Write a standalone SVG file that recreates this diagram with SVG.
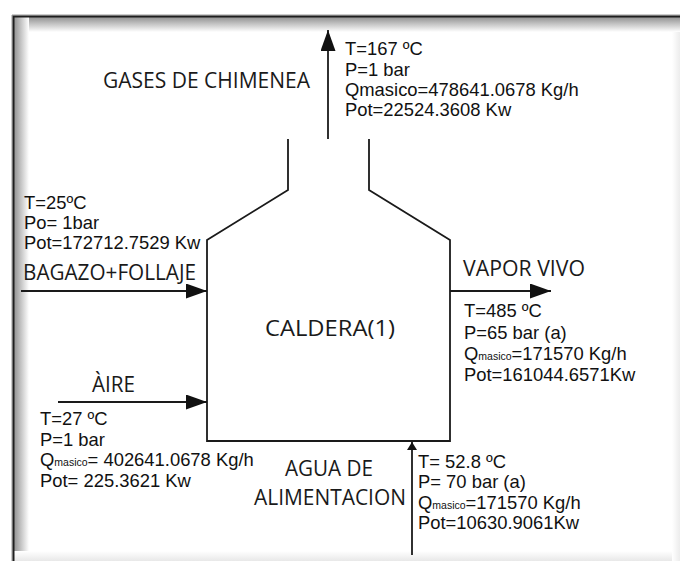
<svg xmlns="http://www.w3.org/2000/svg" width="680" height="561" viewBox="0 0 680 561">
<defs>
<linearGradient id="gTop" x1="0" y1="0" x2="0" y2="1"><stop offset="0" stop-color="#8a8a8a"/><stop offset="1" stop-color="#ffffff"/></linearGradient>
<linearGradient id="gLeft" x1="0" y1="0" x2="1" y2="0"><stop offset="0" stop-color="#8a8a8a"/><stop offset="1" stop-color="#ffffff"/></linearGradient>
<linearGradient id="gBot" x1="0" y1="0" x2="0" y2="1"><stop offset="0" stop-color="#ffffff"/><stop offset="1" stop-color="#e8e8e8"/></linearGradient>
<linearGradient id="gRight" x1="0" y1="0" x2="1" y2="0"><stop offset="0" stop-color="#ffffff"/><stop offset="1" stop-color="#ececec"/></linearGradient>
<marker id="ah" markerUnits="userSpaceOnUse" markerWidth="22" markerHeight="16" refX="21" refY="7.5" orient="auto"><path d="M0,0 L21,7.5 L0,15 Z" fill="#111"/></marker>
<marker id="ahs" markerUnits="userSpaceOnUse" markerWidth="10" markerHeight="12" refX="8" refY="5" orient="auto"><path d="M0,0 L8,5 L0,10 Z" fill="#111"/></marker>
</defs>
<style>
.d{font-family:"Liberation Sans",Arial,sans-serif;font-size:18.4px;fill:#111}
.h{font-family:"Open Sans","Noto Sans",sans-serif;font-size:21px;fill:#1a1a1a}
.sub{font-size:10.5px}
.ln{fill:none;stroke:#1a1a1a;stroke-width:1.8}
</style>
<rect width="680" height="561" fill="#fff"/>
<g id="frame">
<rect x="13" y="16" width="667" height="16" fill="url(#gTop)"/>
<rect x="13" y="16" width="16" height="545" fill="url(#gLeft)"/>
<rect x="29" y="32" width="651" height="529" fill="#fff"/>
<rect x="13" y="551" width="667" height="10" fill="url(#gBot)"/>
<rect x="672" y="32" width="8" height="529" fill="url(#gRight)"/>
<path d="M12,561 V15 H680" fill="none" stroke="#999" stroke-width="1"/>
<path d="M13.5,561 V16.5 H680" fill="none" stroke="#1e1e1e" stroke-width="2"/>
</g>
<g id="caldera">
<path class="ln" d="M288,139 V190 L207,240 V441 H450 V240 L369,190 V139"/>
<text class="h" x="265" y="336" textLength="130" lengthAdjust="spacingAndGlyphs">CALDERA(1)</text>
</g>
<g id="connectors">
<line class="ln" x1="328" y1="139" x2="328" y2="30" marker-end="url(#ah)"/>
<line class="ln" x1="21" y1="291" x2="207" y2="291" marker-end="url(#ah)"/>
<line class="ln" x1="450" y1="291" x2="551" y2="291" marker-end="url(#ah)"/>
<line class="ln" x1="58" y1="402" x2="207" y2="402" marker-end="url(#ah)"/>
<line class="ln" x1="412" y1="555" x2="412" y2="442" marker-end="url(#ahs)"/>
</g>
<g id="gases">
<text class="h" x="103" y="88" textLength="207" lengthAdjust="spacingAndGlyphs">GASES DE CHIMENEA</text>
<text class="d" x="345" y="55">T=167 ºC</text>
<text class="d" x="345" y="76">P=1 bar</text>
<text class="d" x="345" y="96">Qmasico=478641.0678 Kg/h</text>
<text class="d" x="345" y="116">Pot=22524.3608 Kw</text>
</g>
<g id="bagazo">
<text class="d" x="24" y="209">T=25ºC</text>
<text class="d" x="24" y="229">Po= 1bar</text>
<text class="d" x="24" y="249">Pot=172712.7529 Kw</text>
<text class="h" x="23" y="280" textLength="173" lengthAdjust="spacingAndGlyphs">BAGAZO+FOLLAJE</text>
</g>
<g id="vapor">
<text class="h" x="463" y="276" textLength="122" lengthAdjust="spacingAndGlyphs">VAPOR VIVO</text>
<text class="d" x="464" y="317">T=485 ºC</text>
<text class="d" x="464" y="339">P=65 bar (a)</text>
<text class="d" x="464" y="360">Q<tspan class="sub">masico</tspan>=171570 Kg/h</text>
<text class="d" x="464" y="381">Pot=161044.6571Kw</text>
</g>
<g id="aire">
<text class="h" x="92" y="392" textLength="43" lengthAdjust="spacingAndGlyphs">ÀIRE</text>
<text class="d" x="40" y="425">T=27 ºC</text>
<text class="d" x="40" y="446">P=1 bar</text>
<text class="d" x="40" y="466">Q<tspan class="sub">masico</tspan>= 402641.0678 Kg/h</text>
<text class="d" x="40" y="487">Pot= 225.3621 Kw</text>
</g>
<g id="agua">
<text class="h" x="285" y="476" textLength="88" lengthAdjust="spacingAndGlyphs">AGUA DE</text>
<text class="h" x="254" y="505" textLength="152" lengthAdjust="spacingAndGlyphs">ALIMENTACION</text>
<text class="d" x="418" y="468">T= 52.8 ºC</text>
<text class="d" x="418" y="488">P= 70 bar (a)</text>
<text class="d" x="418" y="509">Q<tspan class="sub">masico</tspan>=171570 Kg/h</text>
<text class="d" x="418" y="529">Pot=10630.9061Kw</text>
</g>
</svg>
